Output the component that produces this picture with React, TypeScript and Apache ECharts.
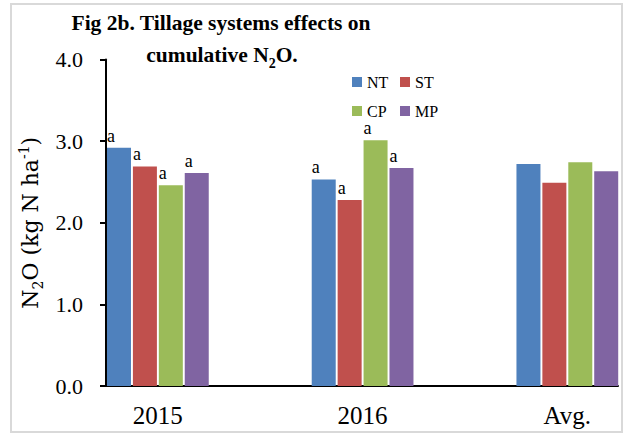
import React, { useEffect, useRef } from 'react';
import * as echarts from 'echarts';

const categories = ['2015', '2016', 'Avg.'];
const seriesNames = ['NT', 'ST', 'CP', 'MP'];
const ntValues = [2.92, 2.53, 2.72];
const stValues = [2.69, 2.28, 2.49];
const cpValues = [2.46, 3.01, 2.74];
const mpValues = [2.61, 2.67, 2.63];
const ntLetters = ['a', 'a', ''];
const stLetters = ['a', 'a', ''];
const cpLetters = ['a', 'a', ''];
const mpLetters = ['a', 'a', ''];
const yMin = 0;
const yMax = 4;
const yInterval = 1;

const colors = ['#4F81BD', '#C0504D', '#9BBB59', '#8064A2'];
const SERIF = '"Liberation Serif", "Times New Roman", serif';
const SERIF_WIDE = '"DejaVu Serif", serif';

export default function App() {
  const ref = useRef<HTMLDivElement>(null);

  useEffect(() => {
    if (!ref.current) return;
    const chart = echarts.init(ref.current, null, { renderer: 'svg' });
    const values = [ntValues, stValues, cpValues, mpValues];
    const letters = [ntLetters, stLetters, cpLetters, mpLetters];

    const legendBase = {
      orient: 'vertical',
      top: 74,
      padding: 0,
      itemWidth: 10,
      itemHeight: 10,
      itemGap: 13,
      icon: 'rect',
      textStyle: { fontFamily: SERIF, fontSize: 16, color: '#000', lineHeight: 14 },
    };

    const option: any = {
      animation: false,
      backgroundColor: '#ffffff',
      grid: [
        { left: 55.5, width: 614.2, top: 59.5, bottom: 49, outerBoundsMode: 'none', containLabel: false },
        { left: 106, right: 6, top: 59.5, bottom: 49, outerBoundsMode: 'none', containLabel: false },
      ],
      legend: [
        { ...legendBase, left: 352, data: [seriesNames[0], seriesNames[2]] },
        { ...legendBase, left: 400, data: [seriesNames[1], seriesNames[3]] },
      ],
      xAxis: [
        {
          type: 'category',
          gridIndex: 0,
          data: categories,
          axisLine: { show: false },
          axisTick: { show: false },
          axisLabel: { fontFamily: SERIF, fontSize: 25, color: '#000', margin: 17 },
          splitLine: { show: false },
        },
        {
          type: 'value',
          gridIndex: 1,
          min: 0,
          max: 1,
          axisLine: { show: true, lineStyle: { color: '#000', width: 2 } },
          axisTick: { show: false },
          axisLabel: { show: false },
          splitLine: { show: false },
        },
      ],
      yAxis: [
        { type: 'value', gridIndex: 0, min: yMin, max: yMax, interval: yInterval, show: false },
        {
          type: 'value',
          gridIndex: 1,
          min: yMin,
          max: yMax,
          interval: yInterval,
          axisLine: { show: true, lineStyle: { color: '#000', width: 2 } },
          axisTick: { show: true, length: 6, lineStyle: { color: '#000', width: 2 } },
          axisLabel: {
            formatter: (v: number) => v.toFixed(1),
            fontFamily: SERIF,
            fontSize: 22,
            color: '#000',
            margin: 23,
          },
          splitLine: { show: false },
          name: 'N{sub|2}O (kg N ha{sup|-1})',
          nameLocation: 'middle',
          nameRotate: 90,
          nameGap: 60,
          nameTextStyle: {
            fontFamily: SERIF_WIDE,
            fontSize: 22,
            lineHeight: 28,
            color: '#000',
            rich: {
              sub: { fontFamily: SERIF_WIDE, fontSize: 14, lineHeight: 18, verticalAlign: 'bottom', color: '#000' },
              sup: { fontFamily: SERIF_WIDE, fontSize: 14, lineHeight: 18, verticalAlign: 'top', color: '#000' },
            },
          },
        },
      ],
      series: seriesNames.map((name, i) => ({
        type: 'bar',
        name,
        xAxisIndex: 0,
        yAxisIndex: 0,
        data: values[i],
        barWidth: 24,
        barGap: '8%',
        itemStyle: { color: colors[i] },
        label: {
          show: true,
          position: [0, -5],
          align: 'left',
          verticalAlign: 'bottom',
          fontFamily: SERIF,
          fontSize: 18,
          lineHeight: 14,
          color: '#000',
          formatter: (p: any) => letters[i][p.dataIndex],
        },
      })),
      graphic: [
        {
          type: 'rect',
          shape: { x: 11, y: 4, width: 611, height: 428 },
          style: { fill: 'none', stroke: '#d9d9d9', lineWidth: 2 },
          silent: true,
        },
        {
          type: 'text',
          x: 221,
          y: 23,
          style: {
            text: 'Fig 2b. Tillage systems effects on',
            fontFamily: SERIF,
            fontWeight: 'bold',
            fontSize: 21.5,
            fill: '#000',
            align: 'center',
            verticalAlign: 'middle',
          },
        },
        {
          type: 'text',
          x: 222,
          y: 55,
          style: {
            text: 'cumulative N{sub|2}O.',
            fontFamily: SERIF,
            fontWeight: 'bold',
            fontSize: 21.5,
            lineHeight: 30,
            fill: '#000',
            align: 'center',
            verticalAlign: 'middle',
            rich: {
              sub: { fontFamily: SERIF, fontWeight: 'bold', fontSize: 14, lineHeight: 18, verticalAlign: 'bottom', fill: '#000' },
            },
          },
        },
      ],
    };
    chart.setOption(option);
    return () => chart.dispose();
  }, []);

  return (
    <div
      ref={ref}
      style={{ position: 'fixed', left: 0, top: 0, width: 624, height: 435, background: '#fff' }}
    />
  );
}
